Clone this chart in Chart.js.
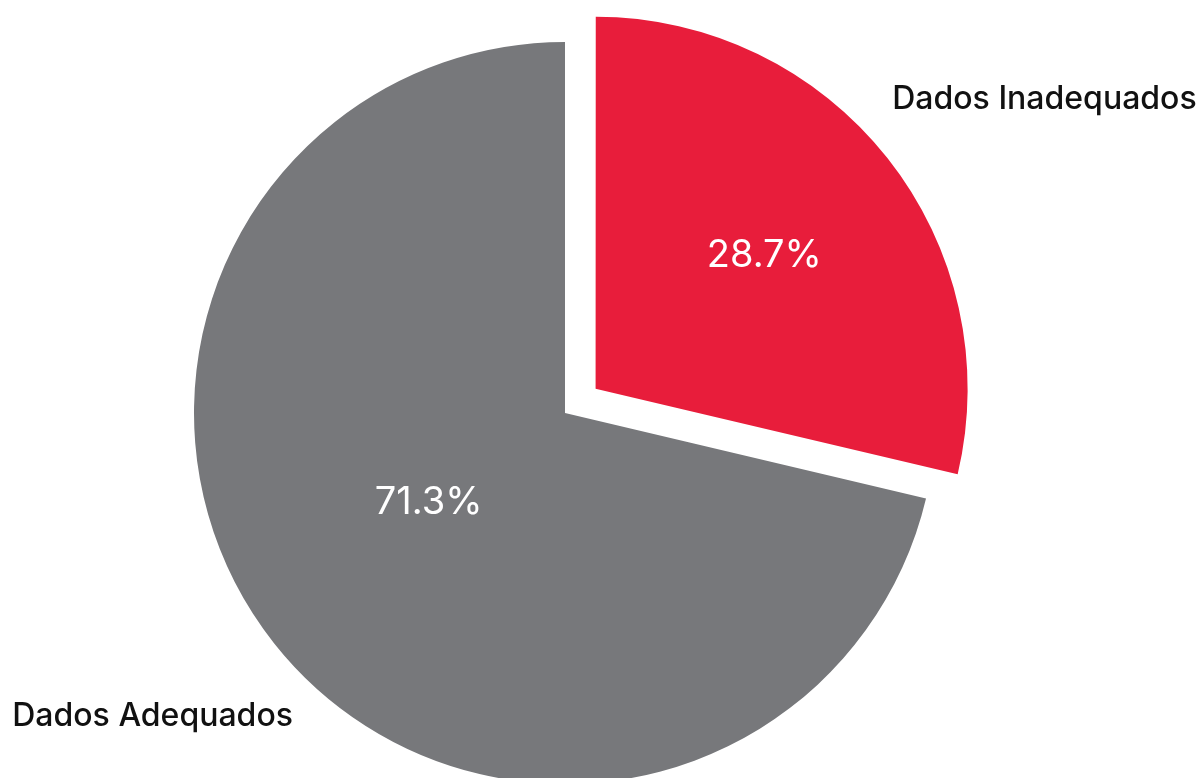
<!DOCTYPE html>
<html>
<head>
<meta charset="utf-8">
<script src="https://cdn.jsdelivr.net/npm/chart.js@4"></script>
<style>
  html, body { margin: 0; padding: 0; background: #fff; overflow: hidden; }
  #wrap { width: 1200px; height: 778px; }
</style>
</head>
<body>
<div id="wrap"><canvas id="pieChart"></canvas></div>
<script>
const categories = ['Dados Inadequados', 'Dados Adequados'];
const shares = [28.7, 71.3];
const sliceColors = ['#e81d3b', '#77787b'];
const sliceOffsets = [156, 0];

// labels drawn on and beside each slice
const sliceLabels = {
    id: 'sliceLabels',
    afterDatasetsDraw(chart, args, opts) {
        const ctx = chart.ctx;
        const arcs = chart.getDatasetMeta(0).data;
        const total = shares.reduce((a, b) => a + b, 0);
        arcs.forEach((arc, i) => {
            const shift = (arc.options.offset || 0) / 4;
            const mid = (arc.startAngle + arc.endAngle) / 2;
            const cx = arc.x + Math.cos(mid) * shift;
            const cy = arc.y + Math.sin(mid) * shift;
            const r = arc.outerRadius;

            let a = mid + opts.pctTurn[i] * Math.PI / 180;
            let d = r * opts.pctDist[i];
            ctx.save();
            ctx.textAlign = 'center';
            ctx.textBaseline = 'middle';
            ctx.fillStyle = '#ffffff';
            ctx.font = '38px Inter, "Open Sans", sans-serif';
            ctx.fillText((shares[i] / total * 100).toFixed(1) + '%', cx + Math.cos(a) * d, cy + Math.sin(a) * d);

            a = mid + opts.nameTurn[i] * Math.PI / 180;
            d = r * opts.nameDist[i];
            ctx.fillStyle = '#111111';
            ctx.font = '500 32px Inter, "Open Sans", sans-serif';
            ctx.fillText(categories[i], cx + Math.cos(a) * d, cy + Math.sin(a) * d);
            ctx.restore();
        });
    }
};

const pieData = {
    labels: categories,
    datasets: [{
        data: shares,
        backgroundColor: sliceColors,
        borderWidth: 0,
        offset: sliceOffsets,
        hoverOffset: 0
    }]
};

const pieOptions = {
    responsive: true,
    maintainAspectRatio: false,
    animation: false,
    radius: 371,
    layout: {
        padding: { left: 0, right: 70, top: 48, bottom: 0 }
    },
    plugins: {
        legend: { display: false },
        tooltip: { enabled: false },
        sliceLabels: {
            pctDist: [0.58, 0.44],
            pctTurn: [0, 5],
            nameDist: [1.44, 1.38],
            nameTurn: [5.5, 2]
        }
    }
};

let pieChart = new Chart(document.getElementById('pieChart'), {
    type: 'pie',
    data: pieData,
    options: pieOptions,
    plugins: [sliceLabels]
});
</script>
</body>
</html>
